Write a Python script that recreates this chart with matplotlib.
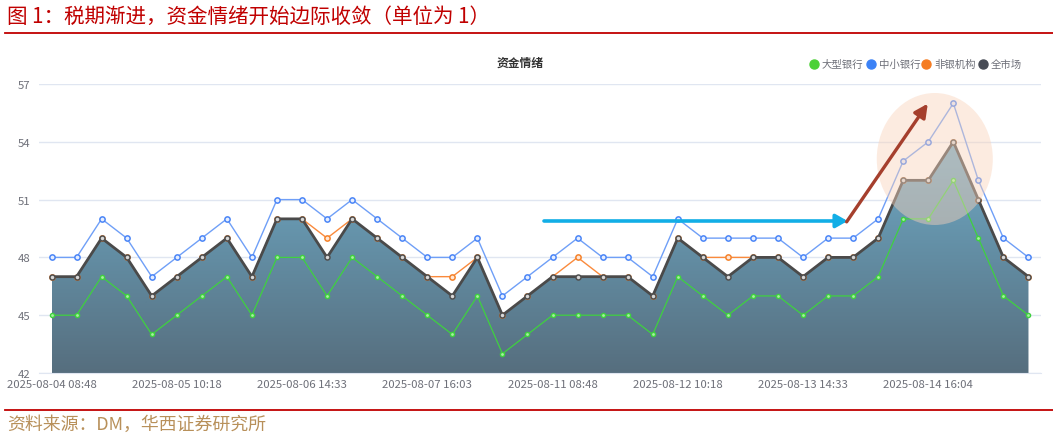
import numpy as np
import matplotlib
matplotlib.use("Agg")
import matplotlib.pyplot as plt
from matplotlib.colors import LinearSegmentedColormap
from matplotlib.patches import Ellipse, FancyArrowPatch
from matplotlib.lines import Line2D

plt.rcParams['font.family'] = ['Noto Sans CJK SC', 'DejaVu Sans']

# ---------------- data ----------------
tick_labels = ["2025-08-04 08:48", "2025-08-05 10:18", "2025-08-06 14:33", "2025-08-07 16:03",
               "2025-08-11 08:48", "2025-08-12 10:18", "2025-08-13 14:33", "2025-08-14 16:04"]
large_banks = [45, 45, 47, 46, 44, 45, 46, 47, 45, 48,
               48, 46, 48, 47, 46, 45, 44, 46, 43, 44,
               45, 45, 45, 45, 44, 47, 46, 45, 46, 46,
               45, 46, 46, 47, 50, 50, 52, 49, 46, 45]
small_banks = [48, 48, 50, 49, 47, 48, 49, 50, 48, 51,
               51, 50, 51, 50, 49, 48, 48, 49, 46, 47,
               48, 49, 48, 48, 47, 50, 49, 49, 49, 49,
               48, 49, 49, 50, 53, 54, 56, 52, 49, 48]
non_banks = [47, 47, 49, 48, 46, 47, 48, 49, 47, 50,
             50, 49, 50, 49, 48, 47, 47, 48, 45, 46,
             47, 48, 47, 47, 46, 49, 48, 48, 48, 48,
             47, 48, 48, 49, 52, 52, 54, 51, 48, 47]
whole_market = [47, 47, 49, 48, 46, 47, 48, 49, 47, 50,
                50, 48, 50, 49, 48, 47, 46, 48, 45, 46,
                47, 47, 47, 47, 46, 49, 48, 47, 48, 48,
                47, 48, 48, 49, 52, 52, 54, 51, 48, 47]
series_names = ["大型银行", "中小银行", "非银机构", "全市场"]
y_ticks = [42, 45, 48, 51, 54, 57]

x = np.arange(len(whole_market))

W, H = 1053, 439
fig = plt.figure(figsize=(W / 100, H / 100), dpi=100)

# header / footer
red = '#c00000'
fig.text(7 / W, 1 - 17 / H, "图 1：税期渐进，资金情绪开始边际收敛（单位为 1）",
         color=red, fontsize=14.8, ha='left', va='center')
fig.add_artist(Line2D([5 / W, 1.0], [1 - 33.5 / H] * 2, color=red, lw=1.3, transform=fig.transFigure))
fig.add_artist(Line2D([5 / W, 1.0], [1 - 411 / H] * 2, color=red, lw=1.3, transform=fig.transFigure))
fig.text(7 / W, 1 - 425 / H, "资料来源：DM，华西证券研究所",
         color='#b8905a', fontsize=12.9, ha='left', va='center')

# axes
left, right, top, bottom = 39, 1041, 85, 374
ax = fig.add_axes([left / W, 1 - bottom / H, (right - left) / W, (bottom - top) / H])

for s in ax.spines.values():
    s.set_visible(False)
ax.spines['bottom'].set_visible(True)
ax.spines['bottom'].set_color('#e0e6f1')
ax.set_yticks(y_ticks)
ax.grid(axis='y', color='#e0e6f1', lw=1, zorder=0)
ax.set_axisbelow(True)
ax.tick_params(axis='both', length=0, colors='#6e7079', labelsize=8.2)
ax.tick_params(axis='y', pad=6)
ax.tick_params(axis='x', pad=4)
ax.set_xticks(x[::5])
ax.set_xticklabels(tick_labels)

# gradient area under whole market
poly = ax.fill_between(x, whole_market, 42, color='none', lw=0)
cmap = LinearSegmentedColormap.from_list('g', ['#566e7e', '#6fabc7'])
grad = np.linspace(0, 1, 256).reshape(-1, 1)
im = ax.imshow(grad, extent=[x[0], x[-1], 42, max(whole_market)], origin='lower',
               aspect='auto', cmap=cmap, zorder=1)
im.set_clip_path(poly.get_paths()[0], ax.transData)

# lines
ax.plot(x, large_banks, color='#3fd13f', lw=0.9, marker='o', ms=3.0,
        mfc='#a8f0a0', mec='#3fd13f', mew=1.0, zorder=3)
ax.plot(x, small_banks, color='#6f9ff7', lw=1.0, marker='o', ms=3.8,
        mfc='#e6eeff', mec='#4b86f7', mew=1.1, zorder=3)
ax.plot(x, non_banks, color='#fa8a3c', lw=1.0, marker='o', ms=3.8,
        mfc='#ffe6d6', mec='#f5822a', mew=1.1, zorder=4)
ax.plot(x, whole_market, color='#4a4a4a', lw=2.0, marker='o', ms=3.6,
        mfc='#d8d8d8', mec='#505050', mew=1.1, zorder=5)

ax.set_xlim(-0.5, len(x) - 0.5)
ax.set_ylim(42, 57)

# annotations
ell = Ellipse((0.894, 0.7405), 0.1158, 0.4567, transform=ax.transAxes,
              facecolor='#f9d3bb', alpha=0.45, edgecolor='none', zorder=6)
ax.add_patch(ell)
ax.add_patch(FancyArrowPatch((0.504, 0.526), (0.807, 0.526), transform=ax.transAxes,
                             arrowstyle='-|>,head_length=7,head_width=4', color='#12aee6',
                             lw=2.6, zorder=7, shrinkA=0, shrinkB=0))
ax.add_patch(FancyArrowPatch((0.806, 0.523), (0.887, 0.932), transform=ax.transAxes,
                             arrowstyle='-|>,head_length=8,head_width=4', color='#a53f2d',
                             lw=2.4, zorder=7, shrinkA=0, shrinkB=0))

# chart title
fig.text(520 / W, 1 - 63 / H, "资金情绪", fontsize=8.5, fontweight='bold',
         color='#333333', ha='center', va='center')

# legend
leg_colors = ['#4cd137', '#3c82f6', '#f57c22', '#474b55']
leg_x = [814, 871, 926, 983]
for c, lx, name in zip(leg_colors, leg_x, series_names):
    fig.add_artist(Line2D([lx / W], [1 - 65 / H], marker='o', ms=6.5, color=c,
                          lw=0, transform=fig.transFigure))
    fig.text((lx + 8) / W, 1 - 65 / H, name, fontsize=7.5, color='#6e7079',
             ha='left', va='center')

fig.savefig('out.png', dpi=100)
